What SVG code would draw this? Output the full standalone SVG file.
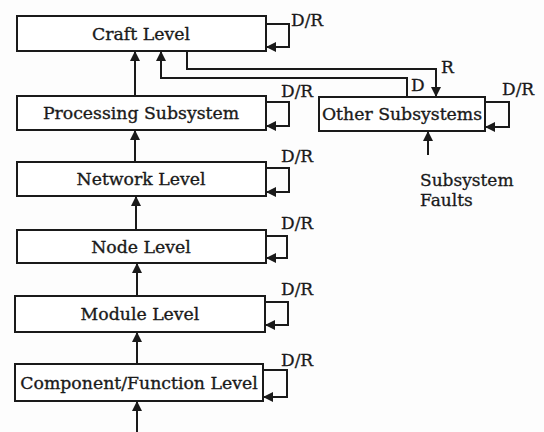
<svg xmlns="http://www.w3.org/2000/svg" width="544" height="432" viewBox="0 0 544 432">
<defs>
<marker id="ah" viewBox="0 0 10 10" refX="10" refY="5" markerWidth="10" markerHeight="10" markerUnits="userSpaceOnUse" orient="auto">
<path d="M0,0 L10,5 L0,10 z" fill="#1a1a1a"/>
</marker>
<style>
.box{fill:#ffffff;stroke:#1a1a1a;stroke-width:2}
.t{font-family:"DejaVu Serif","Liberation Serif",serif;font-size:17.3px;fill:#1a1a1a;stroke:#1a1a1a;stroke-width:0.35;text-anchor:middle}
.l{font-family:"DejaVu Serif","Liberation Serif",serif;font-size:17px;fill:#1a1a1a;stroke:#1a1a1a;stroke-width:0.3}
.c{fill:none;stroke:#1a1a1a;stroke-width:2;marker-end:url(#ah)}
</style>
</defs>
<rect width="544" height="432" fill="#fdfdfd"/>
<g id="craft"><rect class="box" x="17" y="16" width="249" height="35"/><text class="t" x="141" y="40">Craft Level</text></g>
<g id="processing"><rect class="box" x="17" y="96" width="249" height="34"/><text class="t" x="141" y="119">Processing Subsystem</text></g>
<g id="other"><rect class="box" x="319" y="97" width="166" height="34"/><text class="t" x="402" y="120">Other Subsystems</text></g>
<g id="network"><rect class="box" x="17" y="162" width="249" height="34"/><text class="t" x="141" y="185">Network Level</text></g>
<g id="node"><rect class="box" x="17" y="230" width="249" height="33"/><text class="t" x="141" y="253">Node Level</text></g>
<g id="module"><rect class="box" x="15" y="296" width="250" height="36"/><text class="t" x="140" y="320">Module Level</text></g>
<g id="component"><rect class="box" x="15" y="364" width="248" height="37"/><text class="t" x="139" y="389">Component/Function Level</text></g>
<g id="labels">
<text class="l" x="291" y="26">D/R</text>
<text class="l" x="281" y="97">D/R</text>
<text class="l" x="281" y="162">D/R</text>
<text class="l" x="281" y="229">D/R</text>
<text class="l" x="281" y="295">D/R</text>
<text class="l" x="281" y="366">D/R</text>
<text class="l" x="502" y="95">D/R</text>
<text class="l" x="441" y="73">R</text>
<text class="l" x="411" y="91">D</text>
<text class="l" x="420" y="186">Subsystem</text>
<text class="l" x="420" y="206">Faults</text>
</g>
<g id="connectors">
<path class="c" d="M135,96 V51"/>
<path class="c" d="M135,162 V130"/>
<path class="c" d="M136,230 V196"/>
<path class="c" d="M137,296 V263"/>
<path class="c" d="M137,364 V332"/>
<path class="c" d="M137,432 V401"/>
<path class="c" d="M266,24 H289 V47 H266"/>
<path class="c" d="M266,102 H289 V126 H266"/>
<path class="c" d="M266,168 H289 V192 H266"/>
<path class="c" d="M266,236 H287 V258 H266"/>
<path class="c" d="M265,302 H288 V325 H265"/>
<path class="c" d="M263,370 H287 V397 H263"/>
<path class="c" d="M485,102 H509 V127 H485"/>
<path class="c" d="M187,51 V69 H436 V97"/>
<path class="c" d="M407,97 V78 H161 V51"/>
<path class="c" d="M428,155 V131"/>
</g>
</svg>
